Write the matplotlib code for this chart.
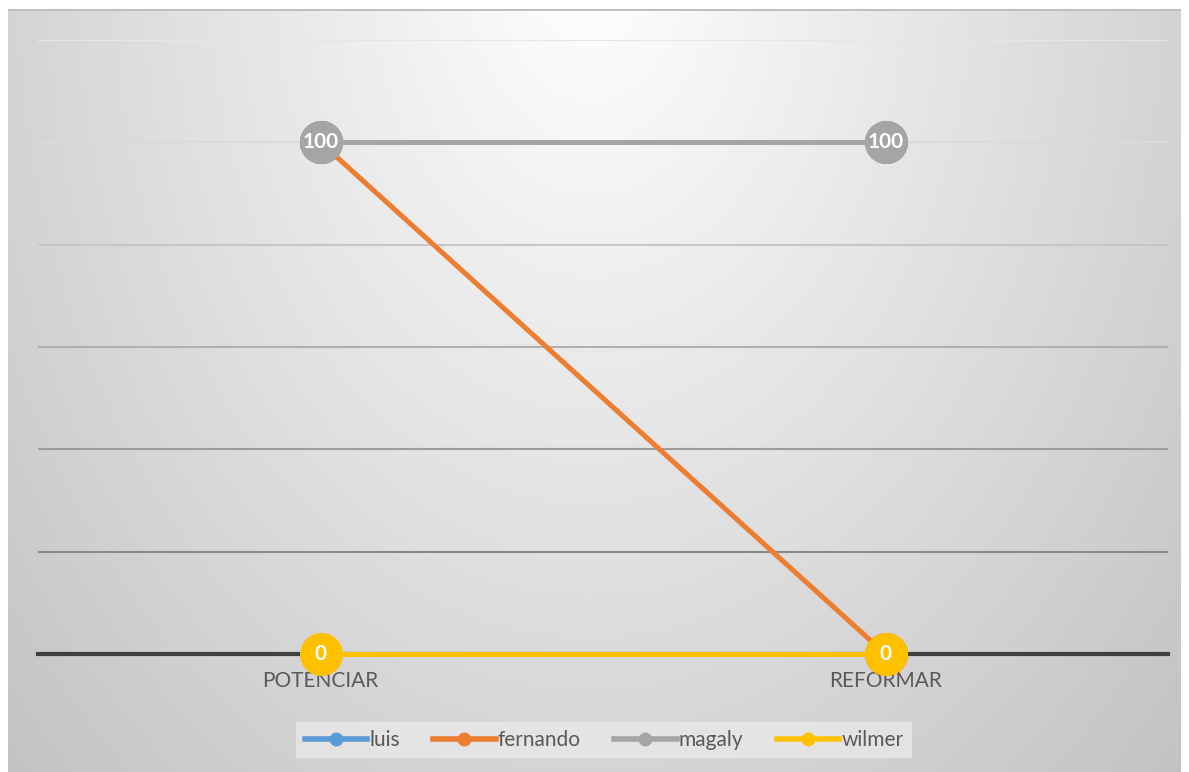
import numpy as np
import matplotlib.pyplot as plt
from matplotlib.lines import Line2D

plt.rcParams['font.family'] = ['Lato', 'DejaVu Sans']

categories = ['POTENCIAR', 'REFORMAR']
series_names = ['luis', 'fernando', 'magaly', 'wilmer']
series_values = [
    [100, 100],   # luis
    [100, 0],     # fernando
    [100, 100],   # magaly
    [0, 0],       # wilmer
]
series_colors = ['#5b9bd5', '#ed7d31', '#a5a5a5', '#ffc000']

W, H = 1189, 772
fig = plt.figure(figsize=(W / 100, H / 100), dpi=100)
fig.patch.set_facecolor('white')

# chart area with a soft radial shading, lighter towards the top centre
x0, y0, x1, y1 = 8, 9, 1181, 772
bg = fig.add_axes([x0 / W, 1 - y1 / H, (x1 - x0) / W, (y1 - y0) / H])
yy, xx = np.mgrid[y0:y1, x0:x1]
t = np.sqrt(((xx - 590) / 680.0) ** 2 + ((yy + 30) / 950.0) ** 2)
shade = np.clip(255 - 50 * t, 190, 255) / 255.0
bg.imshow(np.dstack([shade] * 3), aspect='auto', extent=[0, 1, 0, 1])
bg.axhline(1, color='#bdbdbd', lw=2)
bg.set_axis_off()

# plot area
px0, py0, px1, py1 = 38, 40, 1168, 654
ax = fig.add_axes([px0 / W, 1 - py1 / H, (px1 - px0) / W, (py1 - py0) / H])
ax.set_facecolor('none')
ax.set_xlim(-0.5, 1.5)
ax.set_ylim(0, 120)

grid_levels = [20, 40, 60, 80, 100, 120]
grid_colors = ['#8a8a8a', '#9c9c9c', '#b0b0b0', '#c6c6c6', '#dadada', '#e6e6e6']
for lvl, c in zip(grid_levels, grid_colors):
    ax.axhline(lvl, color=c, lw=1.5, zorder=1)
ax.axhline(0, color='#404040', lw=3.0, zorder=1.5, clip_on=False)

x = np.arange(len(categories))
for i, (name, vals, col) in enumerate(zip(series_names, series_values, series_colors)):
    z = 3 + 2 * i
    ax.plot(x, vals, color=col, lw=3.6, marker='o', markersize=31,
            markeredgewidth=0, solid_capstyle='round', zorder=z, clip_on=False)
    for xi, v in zip(x, vals):
        ax.text(xi, v, f'{v}', ha='center', va='center', color='white',
                fontsize=15, fontweight='bold', zorder=z + 1, clip_on=False)

for xi, lab in zip(x, categories):
    ax.text(xi, -3.4, lab, ha='center', va='top', color='#595959', fontsize=15)

for s in ax.spines.values():
    s.set_visible(False)
ax.set_xticks([])
ax.set_yticks([])

handles = [Line2D([0], [0], color=c, lw=4, marker='o', markersize=9)
           for c in series_colors]
leg = fig.legend(handles, series_names, loc='center',
                 bbox_to_anchor=(604 / W, 1 - 740 / H), ncol=4, frameon=True,
                 fontsize=15, handlelength=3.0, handletextpad=0.1,
                 columnspacing=1.6, borderpad=0.4, fancybox=False)
leg.get_frame().set_facecolor('#e6e6e6')
leg.get_frame().set_edgecolor('none')
leg.get_frame().set_alpha(0.9)
for txt in leg.get_texts():
    txt.set_color('#595959')

fig.savefig('out.png', dpi=100)
